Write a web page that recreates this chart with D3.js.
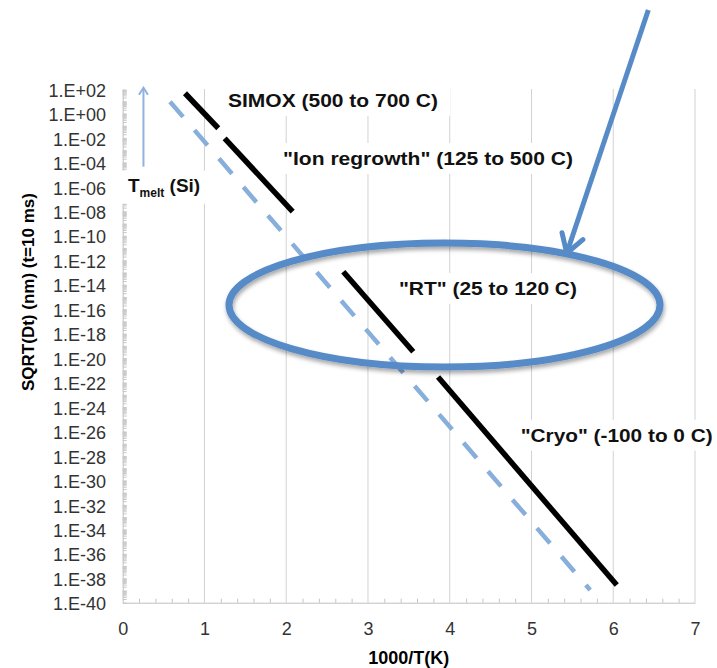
<!DOCTYPE html>
<html>
<head>
<meta charset="utf-8">
<script src="https://cdn.jsdelivr.net/npm/d3@7"></script>
<style>
  body { margin: 0; background: #fff; }
  svg text { font-family: Arial, "Liberation Sans", sans-serif; }
</style>
</head>
<body>
<script>
// tick labels
const xTicks = [0, 1, 2, 3, 4, 5, 6, 7];
const yTickLabels = ["1.E+02", "1.E+00", "1.E-02", "1.E-04", "1.E-06", "1.E-08", "1.E-10",
	"1.E-12", "1.E-14", "1.E-16", "1.E-18", "1.E-20", "1.E-22", "1.E-24", "1.E-26",
	"1.E-28", "1.E-30", "1.E-32", "1.E-34", "1.E-36", "1.E-38", "1.E-40"];

// black segments, value at each end (1000/T and SQRT(Dt) in nm)
const segNames = ["SIMOX", "Ion regrowth", "RT", "Cryo"];
const segX = [[0.762, 1.169], [1.247, 2.079], [2.698, 3.554], [3.857, 6.043]];
const segY = [[4.5e1, 6.2e-2], [9.3e-3, 9.3e-9], [1.15e-13, 3.3e-20], [2.8e-22, 2.8e-39]];

// dashed blue line
const refX = [0.579, 5.718];
const refY = [9.1e0, 1.1e-39];

// annotation texts
const labelTexts = ["SIMOX (500 to 700 C)", "\"Ion regrowth\" (125 to 500 C)",
	"\"RT\" (25 to 120 C)", "\"Cryo\" (-100 to 0 C)"];

const w = 717;
const h = 668;

const xScale = d3.scaleLinear().domain([0, 7]).range([122.7, 695]);
const yScale = d3.scaleLog().domain([1e-40, 1e2]).range([602.7, 89]);
// y position from a power of ten
const yE = (e) => yScale(Math.pow(10, e));

const svg = d3.select("body").append("svg").attr("width", w).attr("height", h);

const defs = svg.append("defs");
defs.append("filter").attr("id", "shadow")
	.attr("x", "-10%").attr("y", "-20%").attr("width", "120%").attr("height", "150%")
	.append("feDropShadow")
	.attr("dx", 1).attr("dy", 3).attr("stdDeviation", 2)
	.attr("flood-color", "#000").attr("flood-opacity", 0.35);
defs.append("marker").attr("id", "headBig")
	.attr("markerUnits", "userSpaceOnUse")
	.attr("viewBox", "-22 -14 26 28").attr("markerWidth", 26).attr("markerHeight", 28)
	.attr("refX", 0).attr("refY", 0).attr("orient", "auto")
	.append("path").attr("d", "M-18,-11L0,0L-18,11")
	.attr("fill", "none").attr("stroke", "#568bc7").attr("stroke-width", 5)
	.attr("stroke-linecap", "round").attr("stroke-linejoin", "round");
defs.append("marker").attr("id", "headSmall")
	.attr("markerUnits", "userSpaceOnUse")
	.attr("viewBox", "-10 -7 12 14").attr("markerWidth", 12).attr("markerHeight", 14)
	.attr("refX", 0).attr("refY", 0).attr("orient", "auto")
	.append("path").attr("d", "M-7,-4.5L0,0L-7,4.5")
	.attr("fill", "none").attr("stroke", "#8fb3dd").attr("stroke-width", 2);

// vertical gridlines
svg.append("g")
	.selectAll("line")
	.data(xTicks.slice(1))
	.join("line")
	.attr("x1", (d) => xScale(d)).attr("x2", (d) => xScale(d))
	.attr("y1", yScale(1e2)).attr("y2", yScale(1e-40))
	.attr("stroke", "#d2d2d2").attr("stroke-width", 1);

// x axis: labels, then small inside ticks every 0.2
const xAxis = d3.axisBottom(xScale).tickValues(xTicks).tickFormat((d) => d).tickSize(0).tickPadding(20);
const gx = svg.append("g").attr("transform", "translate(0," + yScale(1e-40) + ")").call(xAxis);
gx.select(".domain").attr("stroke", "#bfbfbf");
gx.selectAll("text").attr("font-size", 18).attr("fill", "#333").attr("font-family", null);

const xMinor = d3.range(1, 35).map((i) => i / 5).filter((v) => Math.abs(v - Math.round(v)) > 0.01);
const gxm = svg.append("g").attr("transform", "translate(0," + yScale(1e-40) + ")")
	.call(d3.axisBottom(xScale).tickValues(xMinor).tickSize(-4).tickFormat(""));
gxm.select(".domain").remove();
gxm.selectAll("line").attr("stroke", "#c4c4c4");

// y axis
const yAxis = d3.axisLeft(yScale)
	.tickValues(yTickLabels.map(Number))
	.tickFormat((d, i) => yTickLabels[i])
	.tickSize(0).tickPadding(16.7);
const gy = svg.append("g").attr("transform", "translate(" + xScale(0) + ",0)").call(yAxis);
gy.select(".domain").attr("stroke", "#bfbfbf");
gy.selectAll("text").attr("font-size", 18).attr("fill", "#333").attr("font-family", null).attr("dy", "0.4em");

const yMinor = [];
d3.range(-40, 2).forEach((k) => {
	d3.range(1, 10).forEach((m) => yMinor.push(m * Math.pow(10, k)));
});
const gym = svg.append("g").attr("transform", "translate(" + xScale(0) + ",0)")
	.call(d3.axisLeft(yScale).tickValues(yMinor).tickSize(-4).tickFormat(""));
gym.select(".domain").remove();
gym.selectAll("line").attr("stroke", "#c8c8c8");

// axis titles
svg.append("text")
	.attr("transform", "translate(28," + (yE(-14.6)) + ") rotate(-90)")
	.attr("text-anchor", "middle").attr("dy", "0.35em")
	.attr("font-size", 17).attr("font-weight", "bold")
	.text("SQRT(Dt) (nm)  (t=10 ms)");

svg.append("text")
	.attr("x", xScale(3.5)).attr("y", 664)
	.attr("text-anchor", "middle")
	.attr("font-size", 18).attr("font-weight", "bold")
	.text("1000/T(K)");

// text boxes with white fill (they hide the gridlines behind them)
const boxG = svg.append("g");
const putBox = (textSel, padX, padY) => {
	const b = textSel.node().getBBox();
	boxG.insert("rect", () => textSel.node())
		.attr("x", b.x - padX).attr("y", b.y - padY)
		.attr("width", b.width + 2 * padX).attr("height", b.height + 2 * padY)
		.attr("fill", "#fff");
};

const labelPos = [[1.288, 0.528], [1.961, -4.21], [3.379, -14.84], [4.868, -26.84]];
const labelLen = [210, 290, 178, 192];
labelTexts.forEach((s, i) => {
	const t = boxG.append("text")
		.attr("x", xScale(labelPos[i][0])).attr("y", yE(labelPos[i][1]))
		.attr("font-size", 19).attr("font-weight", "bold").attr("fill", "#111")
		.attr("textLength", labelLen[i]).attr("lengthAdjust", "spacingAndGlyphs")
		.text(s);
	putBox(t, 12, 5);
});

// T melt (Si)
const tm = boxG.append("text")
	.attr("x", xScale(0.065)).attr("y", yE(-6.4))
	.attr("font-weight", "bold").attr("fill", "#111");
tm.append("tspan").attr("font-size", 19).text("T");
tm.append("tspan").attr("font-size", 12).attr("dy", 5).text("melt");
tm.append("tspan").attr("font-size", 19).attr("dy", -5).text(" (Si)");
putBox(tm, 10, 4);

// small up arrow above T melt
svg.append("line")
	.attr("x1", xScale(0.254)).attr("x2", xScale(0.254))
	.attr("y1", yE(-4.35)).attr("y2", yE(2.1))
	.attr("stroke", "#8fb3dd").attr("stroke-width", 2)
	.attr("marker-end", "url(#headSmall)");

// dashed blue line
const line = d3.line().x((d) => xScale(d[0])).y((d) => yScale(d[1]));
svg.append("path")
	.datum(refX.map((v, i) => [v, refY[i]]))
	.attr("d", line)
	.attr("fill", "none").attr("stroke", "#88aedb").attr("stroke-width", 4.5)
	.attr("stroke-dasharray", "20,17.5");

// black segments
svg.append("g")
	.selectAll("path")
	.data(segNames.map((n, i) => segX[i].map((v, j) => [v, segY[i][j]])))
	.join("path")
	.attr("d", line)
	.attr("fill", "none").attr("stroke", "#000").attr("stroke-width", 5.5);

// highlight ellipse and pointer arrow
const ecx = 3.936, ece = -15.66;
svg.append("ellipse")
	.attr("cx", xScale(ecx)).attr("cy", yE(ece))
	.attr("rx", xScale(ecx + 2.636) - xScale(ecx))
	.attr("ry", yE(ece - 5.07) - yE(ece))
	.attr("fill", "none").attr("stroke", "#568bc7").attr("stroke-width", 7)
	.attr("filter", "url(#shadow)");

svg.append("line")
	.attr("x1", xScale(6.429)).attr("y1", yE(8.46))
	.attr("x2", xScale(5.431)).attr("y2", yE(-11.43))
	.attr("stroke", "#568bc7").attr("stroke-width", 5)
	.attr("marker-end", "url(#headBig)");
</script>
</body>
</html>
